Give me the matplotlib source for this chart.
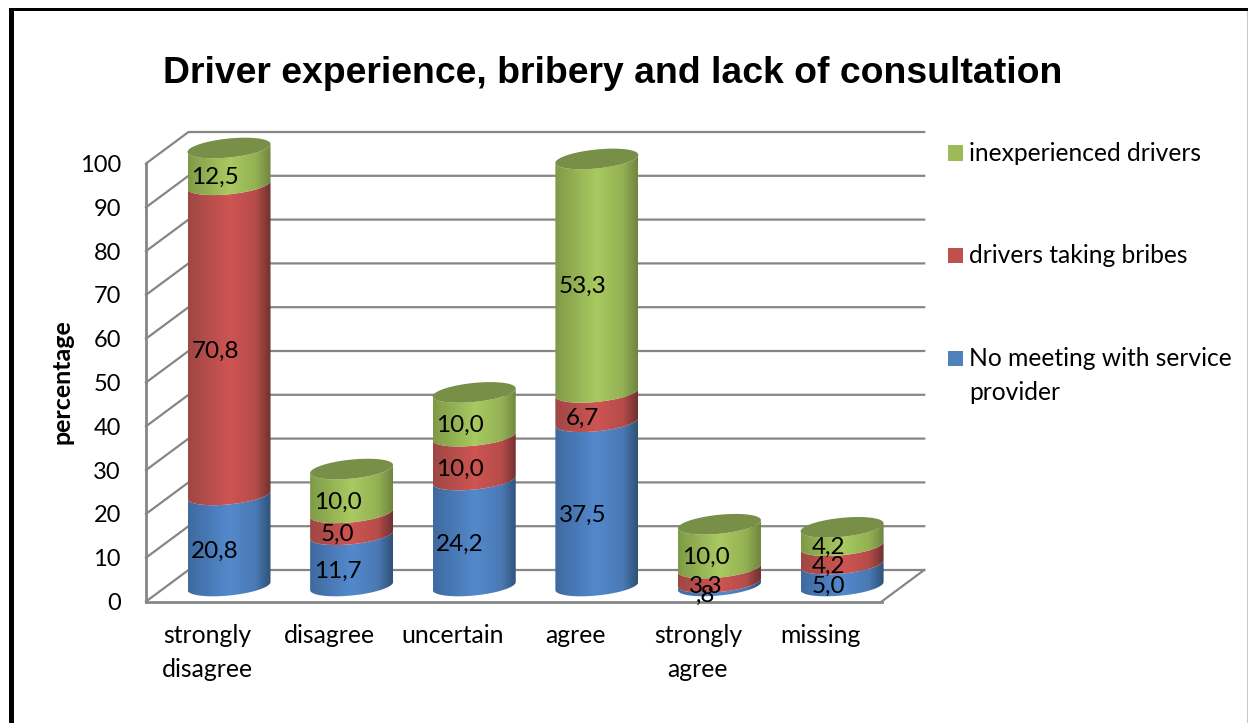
import numpy as np
import matplotlib
matplotlib.use('Agg')
import matplotlib.pyplot as plt
from matplotlib.colors import LinearSegmentedColormap
from matplotlib.patches import Polygon, Rectangle

categories = ['strongly\ndisagree', 'disagree', 'uncertain', 'agree', 'strongly\nagree', 'missing']
no_meeting = [20.8, 11.7, 24.2, 37.5, 0.8, 5.0]
bribes = [70.8, 5.0, 10.0, 6.7, 3.3, 4.2]
inexperienced = [12.5, 10.0, 10.0, 53.3, 10.0, 4.2]
series_names = ['No meeting with service\nprovider', 'drivers taking bribes', 'inexperienced drivers']
y_ticks = [0, 10, 20, 30, 40, 50, 60, 70, 80, 90, 100]

W, H = 1248, 723
GRID = '#868686'
BODY_FONT = 'Lato'

# left edge, light centre, shaded, right edge
shades = [
    ['#3f6aa0', '#5389cc', '#4a79b4', '#2f5177'],
    ['#9f4744', '#ce5553', '#b54c49', '#6e312f'],
    ['#7f9a47', '#a8ca60', '#93b153', '#6f8540'],
]
legend_colors = ['#4f81bd', '#c0504d', '#9bbb59']
top_color = '#778f47'

fig = plt.figure(figsize=(W / 100, H / 100), dpi=100)
fig.patch.set_facecolor('white')
# axes box is the front plane of the 3d chart
ax = fig.add_axes([146 / W, 1 - 601.5 / H, 735.7 / W, 438 / H])
ax.set_facecolor('none')

px_x = 735.7 / 6      # pixels for one category
px_y = 4.38           # pixels for one percent
back_dx, back_dy = 42.5 / px_x, 31.5 / px_y
bar_dx, bar_dy = 21.7 / px_x, 15.5 / px_y
half_w = 41.5 / px_x
ell_b = 9.5 / px_y
ell_tilt = 4.0 / px_y

# back wall and side wall
for t in y_ticks:
    ax.plot([-0.5, -0.5 + back_dx, 5.5 + back_dx], [t, t + back_dy, t + back_dy],
            color=GRID, lw=1.6, clip_on=False, zorder=1)
ax.plot([5.5, 5.5 + back_dx], [0, back_dy], color=GRID, lw=1.6, clip_on=False, zorder=1)


def ellipse(cx, cy, t):
    return cx + half_w * np.cos(t), cy + ell_tilt * np.cos(t) + ell_b * np.sin(t)


grad = np.linspace(0, 1, 256)[None, :]
stacked = np.array([no_meeting, bribes, inexperienced])
cum = np.cumsum(stacked, axis=0)

for i in range(len(categories)):
    cx = i + bar_dx
    low = 0.0
    for s in range(3):
        # the value axis stops at 100
        high = min(cum[s, i], 100)
        front = np.linspace(np.pi, 2 * np.pi, 60)
        xb, yb = ellipse(cx, low + bar_dy, front)
        xt, yt = ellipse(cx, high + bar_dy, front[::-1])
        body = Polygon(np.column_stack([np.r_[xb, xt], np.r_[yb, yt]]), closed=True,
                       facecolor='none', edgecolor='none', zorder=3 + i)
        ax.add_patch(body)
        cmap = LinearSegmentedColormap.from_list(
            'bar%d' % s, list(zip([0, 0.5, 0.82, 1], shades[s])))
        im = ax.imshow(grad, cmap=cmap, aspect='auto', interpolation='bilinear', zorder=3 + i,
                       extent=(cx - half_w, cx + half_w, low + bar_dy - 5, high + bar_dy + 5))
        # tops of the cylinders stick out above the axes box
        im.set_clip_box(fig.bbox)
        im.set_clip_path(body)
        low = high
    all_t = np.linspace(0, 2 * np.pi, 120)
    xc, yc = ellipse(cx, low + bar_dy, all_t)
    ax.add_patch(Polygon(np.column_stack([xc, yc]), closed=True, facecolor=top_color,
                         edgecolor='none', clip_on=False, zorder=3 + i))

# data labels, sit a bit left of the bar and below the middle of the segment
for i in range(len(categories)):
    low = 0.0
    for s in range(3):
        val = stacked[s, i]
        high = min(low + val, 100)
        txt = ('%.1f' % val).replace('.', ',')
        if txt.startswith('0,'):
            txt = txt[1:]
        ax.text(i + bar_dx - 14 / px_x, (low + high) / 2 + bar_dy - 11 / px_y, txt,
                ha='center', va='center', fontsize=17.5, family=BODY_FONT, color='black',
                zorder=20, clip_on=False)
        low = high

ax.set_xlim(-0.5, 5.5)
ax.set_ylim(0, 100)
ax.set_xticks(range(len(categories)))
ax.set_xticklabels(categories, fontsize=17.8, family=BODY_FONT, linespacing=1.58)
ax.set_yticks(y_ticks)
ax.set_yticklabels([str(t) for t in y_ticks], fontsize=17, family=BODY_FONT)
ax.tick_params(axis='y', length=0, pad=18)
ax.tick_params(axis='x', length=0, pad=16.5)
for side in ['top', 'right']:
    ax.spines[side].set_visible(False)
for side in ['left', 'bottom']:
    ax.spines[side].set_color(GRID)
    ax.spines[side].set_linewidth(2)
    ax.spines[side].set_zorder(2)

fig.text(62 / W, 1 - 382 / H, 'percentage', rotation=90, ha='center', va='center',
         fontsize=18, fontweight='bold', family=BODY_FONT)
fig.text(612.5 / W, 1 - 73.5 / H, 'Driver experience, bribery and lack of consultation',
         ha='center', va='center', fontsize=26.9, fontweight='bold', family='Liberation Sans')

# legend by hand, the square stays on the first line of a wrapped label
for s, ly in zip([2, 1, 0], [153, 255, 358]):
    fig.add_artist(Rectangle((948 / W, 1 - (ly + 7.5) / H), 15 / W, 15 / H, transform=fig.transFigure,
                             facecolor=legend_colors[s], edgecolor='none'))
    fig.text(969 / W, 1 - (ly - 11) / H, series_names[s], ha='left', va='top', fontsize=17.7,
             family=BODY_FONT, linespacing=1.58)

# black frame of the page, right side is thin and grey
fig.add_artist(Rectangle((8.5 / W, 0), 5.5 / W, 1 - 8.5 / H, transform=fig.transFigure,
                         facecolor='black', edgecolor='none'))
fig.add_artist(Rectangle((8.5 / W, 1 - 11 / H), 1 - 8.5 / W, 2.8 / H, transform=fig.transFigure,
                         facecolor='black', edgecolor='none'))
fig.add_artist(Rectangle((1246.5 / W, 0), 1.5 / W, 1 - 11 / H, transform=fig.transFigure,
                         facecolor='#c8c8c8', edgecolor='none'))

fig.savefig('out.png', dpi=100)
